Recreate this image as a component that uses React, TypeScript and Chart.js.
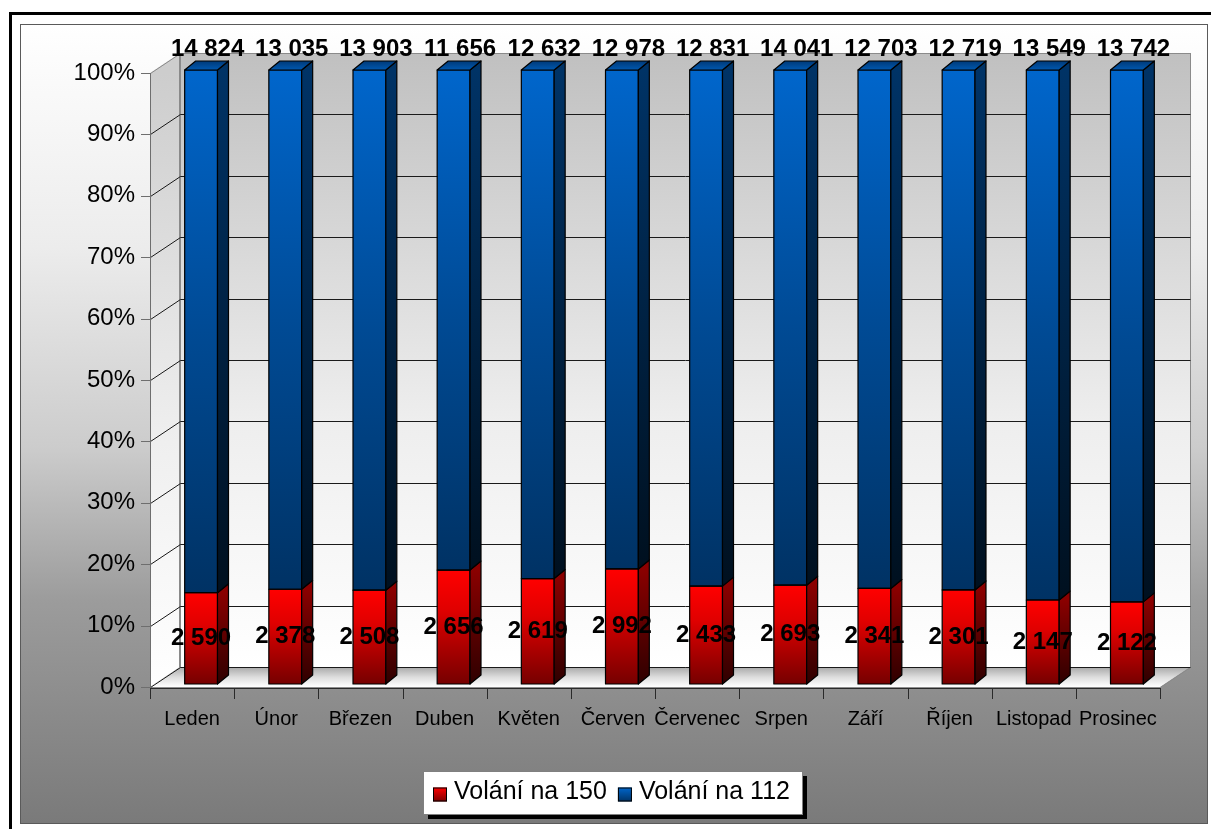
import React, { useEffect, useRef } from 'react';
import { Chart, registerables } from 'chart.js';

Chart.register(...registerables);

// ---------------- data ----------------
const months = ['Leden', 'Únor', 'Březen', 'Duben', 'Květen', 'Červen', 'Červenec', 'Srpen', 'Září', 'Říjen', 'Listopad', 'Prosinec'];
const calls150 = [2590, 2378, 2508, 2656, 2619, 2992, 2433, 2693, 2341, 2301, 2147, 2122];
const calls112 = [14824, 13035, 13903, 11656, 12632, 12978, 12831, 14041, 12703, 12719, 13549, 13742];
const seriesNames = ['Volání na 150', 'Volání na 112'];

// 100 % stacked shares
const share150 = calls150.map((v, i) => (v / (v + calls112[i])) * 100);
const share112 = calls112.map((v, i) => (v / (v + calls150[i])) * 100);

// ---------------- styling ----------------
const W = 1211;
const H = 829;
const FONT = "'Liberation Sans', Arial, Helvetica, sans-serif";
const WALL_DX = 30;
const WALL_DY = -20;
const BAR_DX = 9;
const BAR_DY = -3;
const DEPTH_DX = 11;
const DEPTH_DY = -9;

const fmt = (n: number) => String(n).replace(/\B(?=(\d{3})+(?!\d))/g, ' ');

const px = (v: number) => Math.round(v) + 0.5;

function segGradient(chart: any, i: number, dsIndex: number, fallback: string) {
  const ys = chart.scales && chart.scales.y;
  if (!chart.chartArea || !ys) return fallback;
  const lo = dsIndex === 0 ? 0 : share150[i];
  const hi = dsIndex === 0 ? share150[i] : 100;
  const top = ys.getPixelForValue(hi);
  const bot = ys.getPixelForValue(lo);
  if (!isFinite(top) || !isFinite(bot) || top === bot) return fallback;
  const g = chart.ctx.createLinearGradient(0, top, 0, bot);
  if (dsIndex === 0) {
    g.addColorStop(0, '#ff0000');
    g.addColorStop(0.35, '#e00000');
    g.addColorStop(1, '#760000');
  } else {
    g.addColorStop(0, '#0066cc');
    g.addColorStop(0.5, '#004a94');
    g.addColorStop(1, '#003264');
  }
  return g;
}

const scenePlugin = {
  id: 'scene3d',
  beforeDraw(chart: any) {
    const { ctx, chartArea: a, scales } = chart;
    const ys = scales.y;
    const xs = scales.x;
    const L = a.left, R = a.right, T = a.top, B = a.bottom;
    ctx.save();
    // page
    ctx.fillStyle = '#ffffff';
    ctx.fillRect(0, 0, W, H);
    // outer black frame
    ctx.strokeStyle = '#000';
    ctx.lineWidth = 3;
    ctx.beginPath();
    ctx.moveTo(10.5, H + 10);
    ctx.lineTo(10.5, 13.5);
    ctx.lineTo(W + 10, 13.5);
    ctx.stroke();
    // inner panel gradient
    const pg = ctx.createLinearGradient(0, 24, 0, 823);
    pg.addColorStop(0, '#ffffff');
    pg.addColorStop(0.28, '#ececec');
    pg.addColorStop(0.53, '#cccccc');
    pg.addColorStop(0.72, '#9c9c9c');
    pg.addColorStop(1, '#7a7a7a');
    ctx.fillStyle = pg;
    ctx.fillRect(20, 24, 1187, 799);
    ctx.lineWidth = 1;
    ctx.strokeStyle = '#5a5a5a';
    ctx.strokeRect(20.5, 24.5, 1187, 799);

    // back wall
    const bw = ctx.createLinearGradient(0, T + WALL_DY, 0, B + WALL_DY);
    bw.addColorStop(0, '#c0c0c0');
    bw.addColorStop(0.6, '#eeeeee');
    bw.addColorStop(1, '#ffffff');
    ctx.fillStyle = bw;
    ctx.fillRect(L + WALL_DX, T + WALL_DY, R - L, B - T);
    // left wall
    const lw = ctx.createLinearGradient(0, T, 0, B);
    lw.addColorStop(0, '#cdcdcd');
    lw.addColorStop(0.6, '#efefef');
    lw.addColorStop(1, '#ffffff');
    ctx.fillStyle = lw;
    ctx.beginPath();
    ctx.moveTo(L, T);
    ctx.lineTo(L + WALL_DX, T + WALL_DY);
    ctx.lineTo(L + WALL_DX, B + WALL_DY);
    ctx.lineTo(L, B);
    ctx.closePath();
    ctx.fill();
    // floor
    const fl = ctx.createLinearGradient(0, B + WALL_DY, 0, B);
    fl.addColorStop(0, '#a8a8a8');
    fl.addColorStop(0.5, '#dcdcdc');
    fl.addColorStop(1, '#ffffff');
    ctx.fillStyle = fl;
    ctx.beginPath();
    ctx.moveTo(L, B);
    ctx.lineTo(L + WALL_DX, B + WALL_DY);
    ctx.lineTo(R + WALL_DX, B + WALL_DY);
    ctx.lineTo(R, B);
    ctx.closePath();
    ctx.fill();

    // wall outlines
    ctx.strokeStyle = '#8a8a8a';
    ctx.lineWidth = 1;
    ctx.strokeRect(px(L + WALL_DX), px(T + WALL_DY), R - L, B - T);
    ctx.lineWidth = 2;
    ctx.beginPath();
    ctx.moveTo(L + WALL_DX, T + WALL_DY);
    ctx.lineTo(L + WALL_DX, B + WALL_DY);
    ctx.stroke();
    ctx.lineWidth = 1;
    ctx.beginPath();
    ctx.moveTo(px(L), px(T));
    ctx.lineTo(px(L + WALL_DX), px(T + WALL_DY));
    ctx.moveTo(px(R), px(B));
    ctx.lineTo(px(R + WALL_DX), px(B + WALL_DY));
    ctx.stroke();

    // grid lines
    ctx.strokeStyle = '#1a1a1a';
    ys.ticks.forEach((t: any) => {
      const yy = ys.getPixelForValue(t.value);
      if (t.value === 100) return;
      ctx.beginPath();
      ctx.moveTo(px(L), px(yy));
      ctx.lineTo(px(L + WALL_DX), px(yy + WALL_DY));
      ctx.lineTo(px(R + WALL_DX), px(yy + WALL_DY));
      ctx.stroke();
    });

    // front y axis + ticks
    ctx.strokeStyle = '#6e6e6e';
    ctx.beginPath();
    ctx.moveTo(px(L), T);
    ctx.lineTo(px(L), B + 12);
    ys.ticks.forEach((t: any) => {
      const yy = ys.getPixelForValue(t.value);
      ctx.moveTo(L - 9, px(yy));
      ctx.lineTo(L, px(yy));
    });
    ctx.stroke();

    // front x axis + ticks
    ctx.strokeStyle = '#2a2a2a';
    ctx.beginPath();
    ctx.moveTo(L, px(B + 1));
    ctx.lineTo(R, px(B + 1));
    const step = xs.getPixelForValue(1) - xs.getPixelForValue(0);
    for (let i = 0; i <= months.length; i++) {
      const xx = xs.getPixelForValue(0) - step / 2 + i * step;
      ctx.moveTo(px(xx), B + 1);
      ctx.lineTo(px(xx), B + 12);
    }
    ctx.stroke();
    ctx.restore();
  },
  beforeDatasetsDraw(chart: any) {
    chart.ctx.save();
    chart.ctx.translate(BAR_DX, BAR_DY);
  },
  afterDatasetsDraw(chart: any) {
    const ctx = chart.ctx;
    ctx.lineWidth = 1.2;
    ctx.strokeStyle = '#000';
    ctx.lineJoin = 'round';
    const metas = [chart.getDatasetMeta(0), chart.getDatasetMeta(1)];
    metas.forEach((meta: any, d: number) => {
      meta.data.forEach((el: any) => {
        const { x, y, base, width } = el.getProps(['x', 'y', 'base', 'width'], true);
        const xl = x - width / 2;
        const xr = x + width / 2;
        const top = Math.min(y, base);
        const bot = Math.max(y, base);
        // front outline
        ctx.strokeRect(xl, top, width, bot - top);
        // side face
        const sg = ctx.createLinearGradient(0, top, 0, bot);
        if (d === 0) {
          sg.addColorStop(0, '#8a0000');
          sg.addColorStop(1, '#2e0000');
        } else {
          sg.addColorStop(0, '#003366');
          sg.addColorStop(1, '#00101f');
        }
        ctx.fillStyle = sg;
        ctx.beginPath();
        ctx.moveTo(xr, top);
        ctx.lineTo(xr + DEPTH_DX, top + DEPTH_DY);
        ctx.lineTo(xr + DEPTH_DX, bot + DEPTH_DY);
        ctx.lineTo(xr, bot);
        ctx.closePath();
        ctx.fill();
        ctx.stroke();
        // top face (only the top series is visible from above)
        if (d === 1) {
          const tg = ctx.createLinearGradient(0, top + DEPTH_DY, 0, top);
          tg.addColorStop(0, '#003a78');
          tg.addColorStop(1, '#0058b0');
          ctx.fillStyle = tg;
          ctx.beginPath();
          ctx.moveTo(xl, top);
          ctx.lineTo(xl + DEPTH_DX, top + DEPTH_DY);
          ctx.lineTo(xr + DEPTH_DX, top + DEPTH_DY);
          ctx.lineTo(xr, top);
          ctx.closePath();
          ctx.fill();
          ctx.stroke();
        }
      });
    });
    ctx.restore();

    // data labels
    ctx.save();
    ctx.fillStyle = '#000';
    ctx.font = `bold 24px ${FONT}`;
    ctx.textAlign = 'center';
    metas[0].data.forEach((el: any, i: number) => {
      const { x, y, base } = el.getProps(['x', 'y', 'base'], true);
      ctx.textBaseline = 'middle';
      ctx.fillText(fmt(calls150[i]), x + BAR_DX, (y + base) / 2 + BAR_DY);
    });
    metas[1].data.forEach((el: any, i: number) => {
      const { x, y } = el.getProps(['x', 'y'], true);
      ctx.textBaseline = 'alphabetic';
      ctx.fillText(fmt(calls112[i]), x + BAR_DX + DEPTH_DX / 2 + 1, y + BAR_DY + DEPTH_DY - 5);
    });
    ctx.restore();
  },
  afterDraw(chart: any) {
    const ctx = chart.ctx;
    ctx.save();
    const bx = 423, by = 771, bw = 379, bh = 43;
    ctx.fillStyle = '#000';
    ctx.fillRect(bx + 5, by + 5, bw, bh);
    ctx.fillStyle = '#fff';
    ctx.fillRect(bx, by, bw, bh);
    ctx.strokeStyle = '#808080';
    ctx.lineWidth = 1;
    ctx.strokeRect(bx + 0.5, by + 0.5, bw, bh);
    ctx.font = `25px ${FONT}`;
    ctx.textBaseline = 'middle';
    ctx.textAlign = 'left';
    const cy = by + bh / 2;
    let cx = bx + 10;
    const cols = [
      ['#ff0000', '#7a0000'],
      ['#0066cc', '#003366'],
    ];
    seriesNames.forEach((name, k) => {
      const sq = 14;
      const sy = cy - sq / 2 + 2;
      const g = ctx.createLinearGradient(0, sy, 0, sy + sq);
      g.addColorStop(0, cols[k][0]);
      g.addColorStop(1, cols[k][1]);
      ctx.fillStyle = g;
      ctx.fillRect(cx, sy, sq, sq);
      ctx.strokeStyle = '#000';
      ctx.strokeRect(cx + 0.5, sy + 0.5, sq - 1, sq - 1);
      cx += sq + 7;
      ctx.fillStyle = '#000';
      ctx.fillText(name, cx, cy);
      cx += ctx.measureText(name).width + 11;
    });
    ctx.restore();
  },
};

export default function App() {
  const ref = useRef<HTMLCanvasElement | null>(null);
  useEffect(() => {
    if (!ref.current) return;
    const chart = new Chart(ref.current, {
      type: 'bar',
      data: {
        labels: months,
        datasets: [
          {
            label: seriesNames[0],
            data: share150,
            backgroundColor: (c: any) => segGradient(c.chart, c.dataIndex, 0, '#ff0000'),
            borderWidth: 0,
            barPercentage: 0.39,
            categoryPercentage: 1,
          },
          {
            label: seriesNames[1],
            data: share112,
            backgroundColor: (c: any) => segGradient(c.chart, c.dataIndex, 1, '#0066cc'),
            borderWidth: 0,
            barPercentage: 0.39,
            categoryPercentage: 1,
          },
        ],
      },
      options: {
        responsive: false,
        animation: false,
        clip: false as any,
        layout: { padding: { left: 0, right: 51, top: 73, bottom: 0 } },
        plugins: {
          legend: { display: false },
          tooltip: { enabled: false },
        },
        scales: {
          x: {
            stacked: true,
            grid: { display: false, drawTicks: false },
            border: { display: false },
            ticks: {
              color: '#000',
              font: { family: FONT, size: 20 },
              padding: 20,
              autoSkip: false,
              maxRotation: 0,
              minRotation: 0,
            },
            afterFit: (s: any) => {
              s.height = 142;
            },
          },
          y: {
            stacked: true,
            min: 0,
            max: 100,
            grid: { display: false, drawTicks: false },
            border: { display: false },
            ticks: {
              stepSize: 10,
              color: '#000',
              font: { family: FONT, size: 24 },
              padding: 15,
              callback: (v: any) => `${v}%`,
            },
            afterFit: (s: any) => {
              s.width = 150;
            },
          },
        },
      },
      plugins: [scenePlugin],
    });
    return () => chart.destroy();
  }, []);
  return (
    <div style={{ position: 'fixed', left: 0, top: 0, width: W, height: H }}>
      <canvas ref={ref} width={W} height={H} style={{ display: 'block', width: W, height: H }} />
    </div>
  );
}
